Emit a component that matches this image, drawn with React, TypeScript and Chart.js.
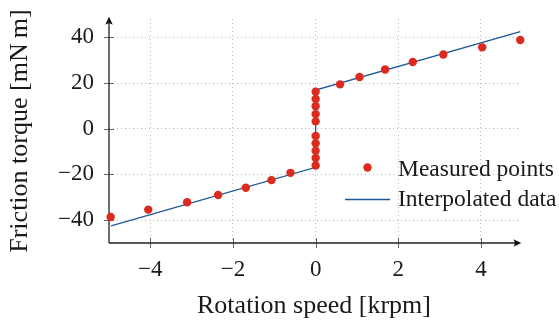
import React, { useEffect, useRef } from 'react';
import { Chart, registerables } from 'chart.js';

Chart.register(...registerables);

// ---- data ----
const measuredX = [
  -4.96, -4.05, -3.11, -2.36, -1.69, -1.07, -0.61,
  0, 0, 0, 0, 0, 0, 0, 0, 0, 0,
  0.59, 1.06, 1.68, 2.35, 3.09, 4.03, 4.95,
];
const measuredY = [
  -38.6, -35.4, -32.2, -29.0, -25.8, -22.5, -19.3,
  -16.1, -12.8, -9.6, -6.4, -3.2, 3.2, 6.4, 9.8, 13.0, 16.2,
  19.4, 22.6, 25.9, 29.2, 32.5, 35.6, 38.8,
];
const interpX = [-4.95, 0, 0, 4.95];
const interpY = [-42.5, -16.9, 16.9, 42.5];
const xTicks = [-4, -2, 0, 2, 4];
const yTicks = [-40, -20, 0, 20, 40];
const seriesLabels = ['Measured points', 'Interpolated data'];
const xTitle = 'Rotation speed [krpm]';
const yTitle = 'Friction torque [mN\u2009m]';

const FONT = "'Liberation Serif', 'Times New Roman', serif";
const TEXT = '#1a1a1a';
const RED = '#dc2a1f';
const BLUE = '#1c5899';

const fmt = (v: any) => {
  const n = Number(v);
  return n < 0 ? '\u2212' + Math.abs(n) : String(n);
};

const axesPlugin = {
  id: 'pgfAxes',
  beforeDatasetsDraw(chart: any) {
    const { ctx, chartArea, scales } = chart;
    const { left, top, right, bottom } = chartArea;
    const xs = scales.x;
    const ys = scales.y;
    ctx.save();
    // tick marks crossing the axes
    ctx.strokeStyle = '#666';
    ctx.lineWidth = 1;
    ctx.beginPath();
    xTicks.forEach((v) => {
      const px = Math.round(xs.getPixelForValue(v)) + 0.5;
      ctx.moveTo(px, bottom - 5);
      ctx.lineTo(px, bottom + 5);
    });
    yTicks.forEach((v) => {
      const py = Math.round(ys.getPixelForValue(v)) + 0.5;
      ctx.moveTo(left - 5, py);
      ctx.lineTo(left + 5, py);
    });
    ctx.stroke();
    // axis lines
    const topTip = top - 2.3;
    const rightTip = right + 2.3;
    ctx.strokeStyle = '#222';
    ctx.lineWidth = 1.3;
    ctx.beginPath();
    ctx.moveTo(left, bottom);
    ctx.lineTo(left, topTip + 3);
    ctx.moveTo(left, bottom);
    ctx.lineTo(rightTip - 3, bottom);
    ctx.stroke();
    // arrow heads
    ctx.fillStyle = '#111';
    ctx.beginPath();
    ctx.moveTo(left, topTip);
    ctx.lineTo(left - 3.8, topTip + 8);
    ctx.quadraticCurveTo(left, topTip + 5, left + 3.8, topTip + 8);
    ctx.closePath();
    ctx.fill();
    ctx.beginPath();
    ctx.moveTo(rightTip, bottom);
    ctx.lineTo(rightTip - 8, bottom - 3.8);
    ctx.quadraticCurveTo(rightTip - 5, bottom, rightTip - 8, bottom + 3.8);
    ctx.closePath();
    ctx.fill();
    ctx.restore();
  },
};

const legendPlugin = {
  id: 'pgfLegend',
  afterDatasetsDraw(chart: any) {
    const { ctx } = chart;
    const ds = chart.data.datasets;
    ctx.save();
    // measured points marker
    ctx.fillStyle = ds[0].backgroundColor;
    ctx.beginPath();
    ctx.arc(367.5, 167.5, 4.2, 0, Math.PI * 2);
    ctx.fill();
    // interpolated line sample
    ctx.strokeStyle = ds[1].borderColor;
    ctx.lineWidth = 1.3;
    ctx.beginPath();
    ctx.moveTo(345, 199.5);
    ctx.lineTo(390, 199.5);
    ctx.stroke();
    ctx.fillStyle = TEXT;
    ctx.font = `23.5px ${FONT}`;
    ctx.textAlign = 'left';
    ctx.textBaseline = 'alphabetic';
    ctx.fillText(ds[0].label, 398, 175.5);
    ctx.fillText(ds[1].label, 398, 206);
    ctx.restore();
  },
};

export default function App() {
  const ref = useRef<HTMLCanvasElement | null>(null);

  useEffect(() => {
    if (!ref.current) return;
    const chart = new Chart(ref.current, {
      type: 'scatter',
      data: {
        datasets: [
          {
            label: seriesLabels[0],
            data: measuredX.map((x, i) => ({ x, y: measuredY[i] })),
            backgroundColor: RED,
            borderColor: RED,
            pointRadius: 4.2,
            pointBorderWidth: 0,
            showLine: false,
            clip: false,
          } as any,
          {
            label: seriesLabels[1],
            data: interpX.map((x, i) => ({ x, y: interpY[i] })),
            borderColor: BLUE,
            backgroundColor: BLUE,
            borderWidth: 1.3,
            pointRadius: 0,
            showLine: true,
            fill: false,
            tension: 0,
            clip: false,
          } as any,
        ],
      },
      options: {
        animation: false,
        responsive: false,
        devicePixelRatio: 1,
        layout: { padding: { top: 19, right: 40, left: 0, bottom: 0 } },
        plugins: { legend: { display: false }, tooltip: { enabled: false } },
        scales: {
          x: {
            type: 'linear',
            min: -5,
            max: 4.92,
            afterBuildTicks: (s: any) => {
              s.ticks = xTicks.map((v) => ({ value: v }));
            },
            afterFit: (s: any) => {
              s.height = 82;
              s.paddingLeft = 0;
              s.paddingRight = 0;
            },
            grid: { color: 'rgba(0,0,0,0.26)', lineWidth: 1, drawTicks: false },
            border: { display: false, dash: [1, 3] },
            ticks: {
              padding: 13,
              color: TEXT,
              font: { family: FONT, size: 23 },
              callback: fmt,
              maxRotation: 0,
              autoSkip: false,
            },
            title: {
              display: true,
              text: xTitle,
              color: TEXT,
              font: { family: FONT, size: 26 },
              padding: { top: 0, bottom: 3.5 },
            },
          },
          y: {
            type: 'linear',
            min: -50,
            max: 48,
            afterBuildTicks: (s: any) => {
              s.ticks = yTicks.map((v) => ({ value: v }));
            },
            afterFit: (s: any) => {
              s.width = 109;
              s.paddingTop = 0;
              s.paddingBottom = 0;
            },
            grid: { color: 'rgba(0,0,0,0.26)', lineWidth: 1, drawTicks: false },
            border: { display: false, dash: [1, 3] },
            ticks: {
              padding: 15,
              color: TEXT,
              font: { family: FONT, size: 23 },
              callback: fmt,
              autoSkip: false,
            },
            title: {
              display: true,
              text: yTitle,
              color: TEXT,
              font: { family: FONT, size: 26 },
              padding: { top: 5, bottom: 0 },
            },
          },
        },
      } as any,
      plugins: [axesPlugin, legendPlugin],
    });
    return () => chart.destroy();
  }, []);

  return (
    <div style={{ position: 'absolute', left: 0, top: 0, width: 559, height: 325, background: '#fff' }}>
      <canvas ref={ref} width={559} height={325} style={{ display: 'block' }} />
    </div>
  );
}
